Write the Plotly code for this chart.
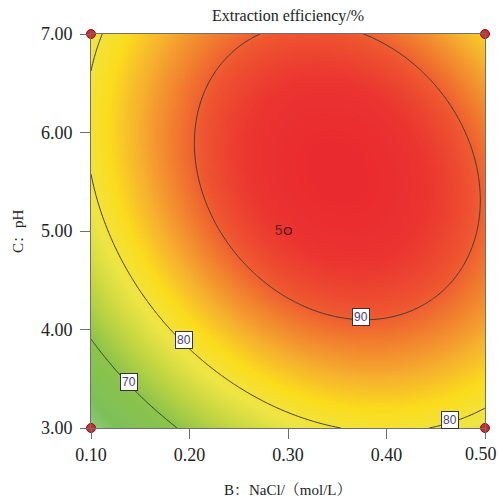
import numpy as np
import plotly.graph_objects as go

# Quadratic response-surface model in coded units (B, C in [-1, 1])
# Y = b0 + bB*B + bC*C + bBC*B*C + bBB*B^2 + bCC*C^2
term_names = ["Intercept", "B", "C", "BC", "B^2", "C^2"]
coef = [93.12, 5.77, 6.16, -3.50, -9.41, -8.77]

B_range = [0.10, 0.50]          # NaCl mol/L
C_range = [3.0, 7.0]            # pH

x_ticks = [0.10, 0.20, 0.30, 0.40, 0.50]
x_tick_labels = ["0.10", "0.20", "0.30", "0.40", "0.50"]
y_ticks = [3.0, 4.0, 5.0, 6.0, 7.0]

design_B = [0.10, 0.10, 0.50, 0.50]
design_C = [3.0, 7.0, 3.0, 7.0]
center_B = [0.30]
center_C = [5.0]
center_reps = ["5"]

contour_levels = [70, 80, 90]
label_levels = [90, 80, 70, 80]
label_B = [0.374, 0.194, 0.139, 0.464]

color_values = [59.5, 63, 70, 75, 79, 82.5, 85.5, 88, 90.5, 93, 95]
color_hex = ["#92cc80", "#7cc05a", "#8cc34a", "#c4d642", "#eee545", "#fbdc1c",
             "#f6b12e", "#f2862f", "#ee5530", "#eb3430", "#e9292f"]


def code_B(b):
    return (np.asarray(b) - (B_range[0] + B_range[1]) / 2) / ((B_range[1] - B_range[0]) / 2)


def code_C(c):
    return (np.asarray(c) - (C_range[0] + C_range[1]) / 2) / ((C_range[1] - C_range[0]) / 2)


def model(bc, cc):
    b0, b1, b2, b12, b11, b22 = coef
    return b0 + b1 * bc + b2 * cc + b12 * bc * cc + b11 * bc ** 2 + b22 * cc ** 2


Bv = np.linspace(B_range[0], B_range[1], 241)
Cv = np.linspace(C_range[0], C_range[1], 241)
BB, CC = np.meshgrid(code_B(Bv), code_C(Cv))
Z = model(BB, CC)

zmin, zmax = color_values[0], color_values[-1]
cscale = [[(v - zmin) / (zmax - zmin), c] for v, c in zip(color_values, color_hex)]

fig = go.Figure()
fig.add_trace(go.Heatmap(x=Bv, y=Cv, z=Z, colorscale=cscale, zmin=zmin, zmax=zmax,
                         showscale=False, hoverinfo="skip", zsmooth="best"))
fig.add_trace(go.Contour(x=Bv, y=Cv, z=Z, showscale=False, hoverinfo="skip",
                         contours=dict(start=contour_levels[0], end=contour_levels[-1],
                                       size=contour_levels[1] - contour_levels[0],
                                       coloring="none", showlabels=False),
                         line=dict(color="#3a3a3a", width=1)))

# label positions on the lower branch of each contour
b0, b1, b2, b12, b11, b22 = coef
for lev, bx in zip(label_levels, label_B):
    bc = float(code_B(bx))
    A = b22
    Bq = b2 + b12 * bc
    Cq = b0 + b1 * bc + b11 * bc ** 2 - lev
    disc = Bq ** 2 - 4 * A * Cq
    roots = [(-Bq + s * np.sqrt(disc)) / (2 * A) for s in (1, -1)]
    cc = min(roots)
    cy = (C_range[0] + C_range[1]) / 2 + cc * (C_range[1] - C_range[0]) / 2
    fig.add_annotation(x=bx, y=cy, text=str(lev), showarrow=False, yshift=3,
                       bgcolor="white", bordercolor="#333", borderwidth=1, borderpad=1,
                       font=dict(family="Liberation Sans, Arial", size=12, color="#4b3c7c"))

fig.add_trace(go.Scatter(x=design_B, y=design_C, mode="markers", cliponaxis=False,
                         marker=dict(size=9, color="#d22a30", line=dict(color="#7a1515", width=1)),
                         hoverinfo="skip"))
fig.add_trace(go.Scatter(x=center_B, y=center_C, mode="markers+text", cliponaxis=False,
                         text=center_reps, textposition="middle left",
                         textfont=dict(family="Liberation Sans, Arial", size=14, color="#6e1e1e"),
                         marker=dict(size=7, color="#d83030", line=dict(color="#4a1010", width=1.2)),
                         hoverinfo="skip"))

serif = "Liberation Serif, Times New Roman, Noto Serif CJK SC, Noto Sans CJK SC, serif"
axis_common = dict(showline=True, linecolor="#707070", linewidth=1, mirror=True,
                   ticks="outside", ticklen=10, tickcolor="#707070", tickwidth=1,
                   showgrid=False, zeroline=False,
                   automargin=False,
                   tickfont=dict(family=serif, size=18, color="#222"))

# last x tick label sits at the page edge: draw it pulled inward like the reference
fig.update_layout(
    width=499, height=502, margin=dict(l=91, r=14, t=34, b=74, autoexpand=False),
    paper_bgcolor="white", plot_bgcolor="white", showlegend=False,
    xaxis=dict(range=B_range, tickvals=x_ticks, ticktext=x_tick_labels[:-1] + [""], **axis_common),
    yaxis=dict(range=C_range, tickvals=y_ticks, tickformat=".2f", ticklabelstandoff=4, **axis_common),
)
fig.add_annotation(x=x_ticks[-1], xref="x", y=0, yref="paper", yshift=-26, yanchor="middle",
                   xanchor="right", xshift=14, showarrow=False, text=x_tick_labels[-1],
                   font=dict(family=serif, size=18, color="#222"))

fig.add_annotation(xref="paper", yref="paper", x=0.5, y=1, yshift=18, yanchor="middle",
                   showarrow=False,
                   text="Extraction efficiency/%", font=dict(family=serif, size=16, color="#222"))
fig.add_annotation(xref="paper", yref="paper", x=0.5, y=0, yshift=-62, yanchor="middle",
                   showarrow=False,
                   text="B：NaCl/（mol/L）", font=dict(family=serif, size=15, color="#222"))
fig.add_annotation(xref="paper", yref="paper", x=0, y=0.5, xshift=-73, xanchor="center",
                   yanchor="middle", showarrow=False,
                   textangle=-90, text="C：pH", font=dict(family=serif, size=15, color="#222"))

fig.write_html("out.html")
